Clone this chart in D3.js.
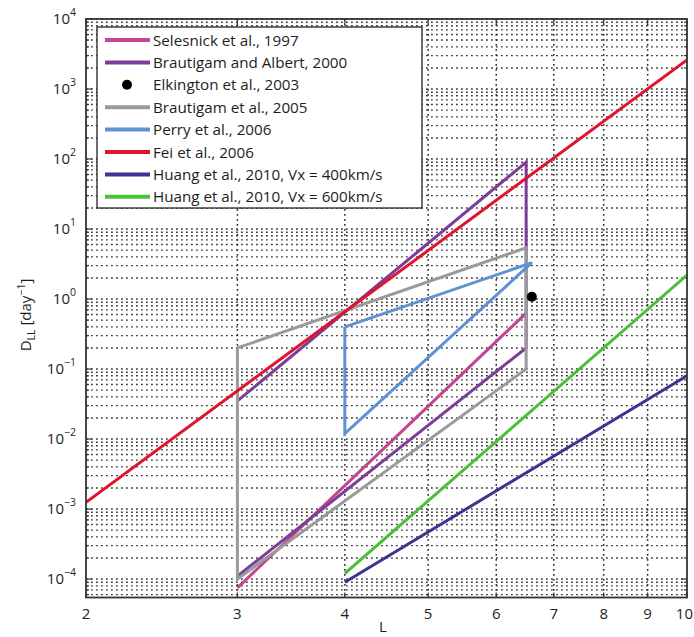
<!DOCTYPE html>
<html><head><meta charset="utf-8">
<script src="https://cdn.jsdelivr.net/npm/d3@7"></script>
<style>body{margin:0;background:#fff}svg{display:block}text{font-family:"Open Sans",sans-serif;fill:#1e1e1e}</style>
</head><body><svg id="c" width="694" height="637"></svg>
<script>
// ---- data ----
const xTicks = [2,3,4,5,6,7,8,9,10];
const yTickExps = [-4,-3,-2,-1,0,1,2,3,4];
const legendLabels = ["Selesnick et al., 1997","Brautigam and Albert, 2000","Elkington et al., 2003","Brautigam et al., 2005","Perry et al., 2006","Fei et al., 2006","Huang et al., 2010, Vx = 400km/s","Huang et al., 2010, Vx = 600km/s"];
const seriesColors = ["#c4448f","#7b3d98","#000000","#9a9a9a","#5e92d2","#e0142e","#3b3590","#4cbf3a"];

const selesnickL = [3, 6.5];            const selesnickD = [7.5e-5, 0.63];
const brautAlbertL = [3, 6.5, 6.5, 3];  const brautAlbertD = [0.035, 90, 0.2, 1.1e-4];
const elkingtonL = [6.6];               const elkingtonD = [1.08];
const braut2005L = [3, 6.5, 6.5, 3, 3]; const braut2005D = [0.2, 5.4, 0.1, 1e-4, 0.2];
const perryL = [4, 6.6, 4, 4];          const perryD = [0.4, 3.3, 0.012, 0.4];
const feiL = [2, 10];                   const feiD = [1.25e-3, 2.6e3];
const huang400L = [4, 10];              const huang400D = [9e-5, 0.08];
const huang600L = [4, 10];              const huang600D = [1.2e-4, 2.2];

const lineSeries = [
  {i:0, L:selesnickL, D:selesnickD},
  {i:1, L:brautAlbertL, D:brautAlbertD},
  {i:3, L:braut2005L, D:braut2005D},
  {i:4, L:perryL, D:perryD},
  {i:5, L:feiL, D:feiD},
  {i:6, L:huang400L, D:huang400D},
  {i:7, L:huang600L, D:huang600D}
];

// ---- layout ----
const pLeft=86, pRight=687, pTop=19, pBottom=597.5;
const svg = d3.select("#c");
const x = d3.scaleLog().domain([2,10]).range([pLeft,pRight]);
const y = d3.scaleLog().domain([5.45e-5,1e4]).range([pBottom,pTop]);

// grid
const g = svg.append("g");
const yMinor = [];
for (let e=-5;e<=4;e++) for (let k=1;k<=9;k++){const v=k*Math.pow(10,e); if(v>=5.45e-5 && v<=1e4*1.0001) yMinor.push(v);}
g.selectAll("line.hg").data(yMinor).join("line")
 .attr("x1",pLeft).attr("x2",pRight).attr("y1",d=>y(d)).attr("y2",d=>y(d))
 .attr("stroke","#3a3a3a").attr("stroke-width",1.4).attr("stroke-dasharray","1.8,3.2");
g.selectAll("line.vg").data(xTicks.filter(d=>d>2&&d<10)).join("line")
 .attr("x1",d=>x(d)).attr("x2",d=>x(d)).attr("y1",pTop).attr("y2",pBottom)
 .attr("stroke","#2a2a2a").attr("stroke-width",1.5).attr("stroke-dasharray","1.8,3.2");

// ticks inside on all four sides
const tk = svg.append("g").attr("stroke","#333").attr("stroke-width",1.2);
yMinor.forEach(v=>{
  const major = Math.abs(Math.log10(v)-Math.round(Math.log10(v)))<1e-9;
  const len = major?6:3;
  tk.append("line").attr("x1",pLeft).attr("x2",pLeft+len).attr("y1",y(v)).attr("y2",y(v));
  tk.append("line").attr("x1",pRight).attr("x2",pRight-len).attr("y1",y(v)).attr("y2",y(v));
});
xTicks.forEach(v=>{
  tk.append("line").attr("x1",x(v)).attr("x2",x(v)).attr("y1",pBottom).attr("y2",pBottom-5);
  tk.append("line").attr("x1",x(v)).attr("x2",x(v)).attr("y1",pTop).attr("y2",pTop+5);
});

// clip
svg.append("clipPath").attr("id","pc").append("rect").attr("x",pLeft).attr("y",pTop).attr("width",pRight-pLeft).attr("height",pBottom-pTop);
const plot = svg.append("g").attr("clip-path","url(#pc)");
const line = d3.line().x(d=>x(d[0])).y(d=>y(d[1]));
lineSeries.forEach(s=>{
  plot.append("path").datum(s.L.map((l,j)=>[l,s.D[j]]))
   .attr("d",line).attr("fill","none").attr("stroke",seriesColors[s.i])
   .attr("stroke-width",3).attr("stroke-linejoin","miter");
});
plot.selectAll("circle.elk").data(elkingtonL.map((l,j)=>[l,elkingtonD[j]])).join("circle")
 .attr("cx",d=>x(d[0])).attr("cy",d=>y(d[1])).attr("r",5).attr("fill","#000");

// frame
svg.append("rect").attr("x",pLeft).attr("y",pTop).attr("width",pRight-pLeft).attr("height",pBottom-pTop)
 .attr("fill","none").attr("stroke","#333").attr("stroke-width",1.8);

// x labels
const lastX = xTicks[xTicks.length-1];
svg.selectAll("text.xt").data(xTicks).join("text")
 .attr("x",d=>d===lastX?693:x(d)).attr("y",619)
 .attr("text-anchor",d=>d===lastX?"end":"middle").attr("font-size",15).text(d=>d);
svg.append("text").attr("x",383).attr("y",632).attr("text-anchor","middle").attr("font-size",15).text("L");

// y labels
yTickExps.forEach(e=>{
  const t = svg.append("text").attr("x",76).attr("y",y(Math.pow(10,e))+5).attr("text-anchor","end").attr("font-size",15);
  t.append("tspan").text("10");
  t.append("tspan").attr("dy",-8).attr("font-size",10.5).text(e<0?"\u2212"+(-e):String(e));
});
const yl = svg.append("text").attr("transform","translate(31,315) rotate(-90)").attr("text-anchor","middle").attr("font-size",15);
yl.append("tspan").text("D");
yl.append("tspan").attr("dy",4).attr("font-size",10.5).text("LL");
yl.append("tspan").attr("dy",-4).text(" [day");
yl.append("tspan").attr("dy",-6).attr("font-size",10.5).text("\u22121");
yl.append("tspan").attr("dy",6).text("]");

// legend
const lg = svg.append("g");
lg.append("rect").attr("x",97).attr("y",27).attr("width",325).attr("height",181).attr("fill","#fff").attr("stroke","#222").attr("stroke-width",1.3);
legendLabels.forEach((lab,i)=>{
  const cy = 40 + i*22.4;
  if (i===2) lg.append("circle").attr("cx",127).attr("cy",cy).attr("r",5).attr("fill","#000");
  else lg.append("line").attr("x1",105).attr("x2",150).attr("y1",cy).attr("y2",cy).attr("stroke",seriesColors[i]).attr("stroke-width",4);
  lg.append("text").attr("x",153).attr("y",cy+5.5).attr("font-size",15.2).text(lab);
});
</script></body></html>
